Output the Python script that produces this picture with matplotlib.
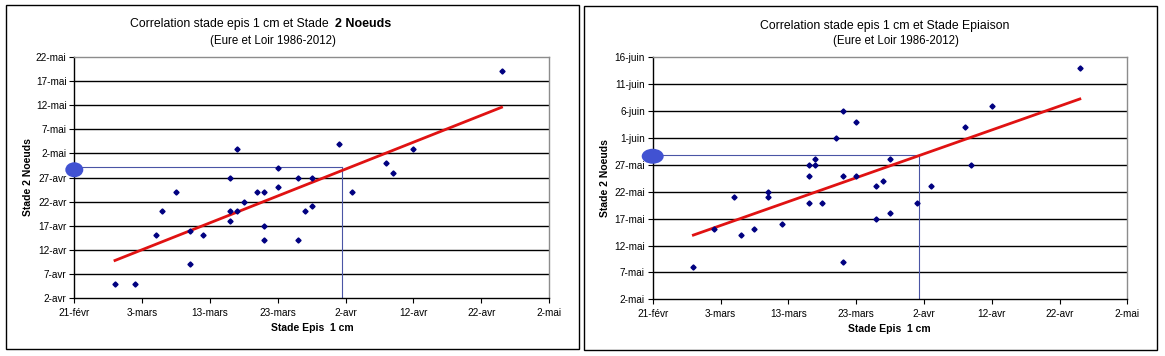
import numpy as np
import matplotlib
matplotlib.use("Agg")
import matplotlib.pyplot as plt
from matplotlib.patches import Rectangle, Ellipse

plt.rcParams["font.family"] = ["Liberation Sans", "DejaVu Sans"]

W, H = 1165, 356

# x : jours depuis le 21-févr (stade épis 1 cm), identique pour les deux graphes
epis_1cm = [6, 9, 12, 13, 15, 17, 17, 19, 23, 23, 23, 24, 24, 25, 27, 28,
            28, 28, 30, 30, 33, 33, 34, 35, 35, 39, 41, 46, 47, 50, 63]
# y gauche : jours depuis le 2-avr (stade 2 noeuds)
deux_noeuds = [3, 3, 13, 18, 22, 14, 7, 13, 25, 18, 16, 18, 31, 20, 22, 22,
               15, 12, 27, 23, 25, 12, 18, 25, 19, 32, 22, 28, 26, 31, 47]
# y droite : jours depuis le 2-mai (stade épiaison)
epiaison = [6, 13, 19, 12, 13, 20, 19, 14, 25, 23, 18, 26, 25, 18, 30, 23,
            7, 35, 23, 33, 21, 15, 22, 26, 16, 18, 21, 32, 25, 36, 43]

x_ticklabels = ["21-févr", "3-mars", "13-mars", "23-mars", "2-avr",
                "12-avr", "22-avr", "2-mai"]
y_left_ticklabels = ["2-avr", "7-avr", "12-avr", "17-avr", "22-avr", "27-avr",
                     "2-mai", "7-mai", "12-mai", "17-mai", "22-mai"]
y_right_ticklabels = ["2-mai", "7-mai", "12-mai", "17-mai", "22-mai",
                      "27-mai", "1-juin", "6-juin", "11-juin", "16-juin"]

# repères bleus (date épis lue -> date prédite)
ref_left = (39.5, 27.1)
ref_right = (39.3, 26.8)
circle_left_y, circle_right_y = 26.6, 26.6


def px_box(x0, y0, x1, y1):
    return [x0 / W, 1 - y1 / H, (x1 - x0) / W, (y1 - y0) / H]


fig = plt.figure(figsize=(W / 100, H / 100), dpi=100)

# cadres des deux graphiques
for (x0, y0, x1, y1) in [(6, 5, 579, 349), (584, 6, 1157, 350)]:
    fig.patches.append(Rectangle((x0 / W, 1 - y1 / H), (x1 - x0) / W, (y1 - y0) / H,
                                 transform=fig.transFigure, fill=False,
                                 edgecolor="black", lw=1.0))


def draw(ax, y, ylabels, ref, circ_y, circ_w_px):
    ny = (len(ylabels) - 1) * 5
    ax.set_xlim(0, 70)
    ax.set_ylim(0, ny)
    ax.set_xticks(np.arange(0, 71, 10))
    ax.set_xticklabels(x_ticklabels)
    ax.set_yticks(np.arange(0, ny + 1, 5))
    ax.set_yticklabels(ylabels)
    ax.tick_params(direction="out", length=3.6, width=0.8, labelsize=7.2, colors="black")
    ax.tick_params(axis="x", pad=3.5)
    ax.tick_params(axis="y", pad=2)
    for yy in np.arange(5, ny, 5):
        ax.axhline(yy, color="black", lw=1.0, zorder=1)
    for s in ["left", "bottom"]:
        ax.spines[s].set_color("black")
        ax.spines[s].set_linewidth(1.0)
    for s in ["top", "right"]:
        ax.spines[s].set_color("#8c8c8c")
        ax.spines[s].set_linewidth(1.0)

    # repères bleus
    ax.plot([0, ref[0]], [ref[1], ref[1]], color="#4a55a5", lw=0.8, zorder=2)
    ax.plot([ref[0], ref[0]], [0, ref[1]], color="#4a55a5", lw=0.8, zorder=2)

    # droite de tendance
    a, b = np.polyfit(epis_1cm, y, 1)
    xs = np.array([min(epis_1cm), max(epis_1cm)])
    ax.plot(xs, a * xs + b, color="#e01212", lw=2.0, zorder=3)

    ax.plot(epis_1cm, y, linestyle="none", marker="D", ms=2.6,
            color="#000080", zorder=4)

    bbox = ax.get_window_extent()
    h_days = 15 / (bbox.height / ny)
    ax.add_patch(Ellipse((0, circ_y), circ_w_px / bbox.width, h_days,
                         transform=ax.get_yaxis_transform(), facecolor="#4152d2",
                         edgecolor="none", clip_on=False, zorder=5))


axL = fig.add_axes(px_box(74.3, 56.7, 549, 298.3))
draw(axL, deux_noeuds, y_left_ticklabels, ref_left, circle_left_y, 18)
axR = fig.add_axes(px_box(652.7, 57.3, 1127.3, 299.3))
draw(axR, epiaison, y_right_ticklabels, ref_right, circle_right_y, 22)

# titres
t1 = fig.text(130 / W, 1 - 24 / H, "Correlation stade epis 1 cm et Stade  ",
              ha="left", va="center", fontsize=8.8)
axL.annotate("2 Noeuds", xy=(1, 0.5), xycoords=t1, va="center", ha="left",
             fontsize=9.0, fontweight="bold", annotation_clip=False)
fig.text(273 / W, 1 - 41 / H, "(Eure et Loir 1986-2012)", ha="center", va="center",
         fontsize=8.3)
fig.text(885 / W, 1 - 26 / H, "Correlation stade epis 1 cm et Stade Epiaison",
         ha="center", va="center", fontsize=8.8)
fig.text(896 / W, 1 - 41 / H, "(Eure et Loir 1986-2012)", ha="center", va="center",
         fontsize=8.3)

# titres d'axes
for xc, yc in [(312, 328), (889, 329)]:
    fig.text(xc / W, 1 - yc / H, "Stade Epis  1 cm", ha="center", va="center",
             fontsize=7.5, fontweight="bold")
for xc, yc in [(28, 177), (605, 178)]:
    fig.text(xc / W, 1 - yc / H, "Stade 2 Noeuds", ha="center", va="center",
             fontsize=7.5, fontweight="bold", rotation=90)

fig.savefig("out.png", dpi=100)
